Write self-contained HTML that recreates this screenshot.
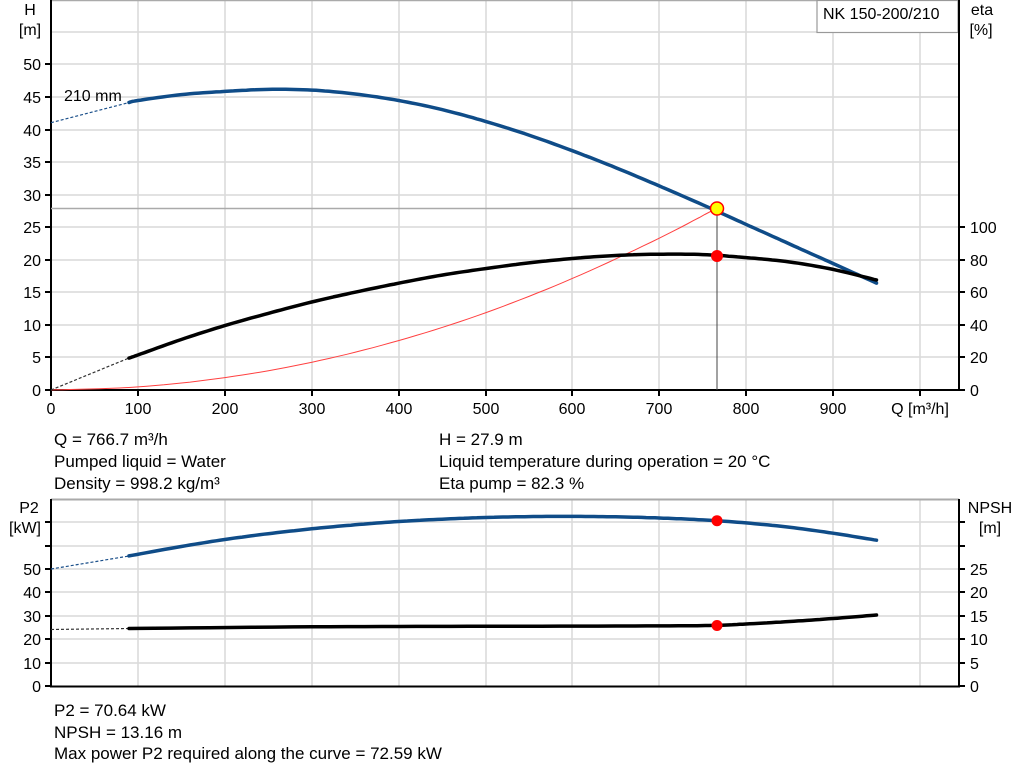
<!DOCTYPE html>
<html><head><meta charset="utf-8"><style>
html,body{margin:0;padding:0;background:#fff;}
svg{display:block;font-family:"Liberation Sans",Arial,sans-serif;}
text{fill:#000;font-size:16px;}
text.i{font-size:17px;}
.g{stroke:#d9d9d9;stroke-width:1.5;fill:none}
.ax{stroke:#000;stroke-width:2;fill:none}
</style></head><body>
<svg width="1024" height="781" viewBox="0 0 1024 781" xmlns="http://www.w3.org/2000/svg">
<g class="g">
<line x1="138" y1="0" x2="138" y2="390"/><line x1="225" y1="0" x2="225" y2="390"/><line x1="312" y1="0" x2="312" y2="390"/><line x1="399" y1="0" x2="399" y2="390"/><line x1="486" y1="0" x2="486" y2="390"/><line x1="572" y1="0" x2="572" y2="390"/><line x1="659" y1="0" x2="659" y2="390"/><line x1="746" y1="0" x2="746" y2="390"/><line x1="833" y1="0" x2="833" y2="390"/><line x1="920" y1="0" x2="920" y2="390"/>
<line x1="51" y1="32" x2="959" y2="32"/><line x1="51" y1="64" x2="959" y2="64"/><line x1="51" y1="97" x2="959" y2="97"/><line x1="51" y1="130" x2="959" y2="130"/><line x1="51" y1="162" x2="959" y2="162"/><line x1="51" y1="195" x2="959" y2="195"/><line x1="51" y1="227" x2="959" y2="227"/><line x1="51" y1="260" x2="959" y2="260"/><line x1="51" y1="292" x2="959" y2="292"/><line x1="51" y1="325" x2="959" y2="325"/><line x1="51" y1="357" x2="959" y2="357"/>
</g>
<line x1="51" y1="0.5" x2="959" y2="0.5" stroke="#aaa" stroke-width="1.5"/>
<rect x="817" y="0.5" width="141" height="32" fill="#fff" stroke="#999" stroke-width="1.2"/>
<text x="823" y="19">NK 150-200/210</text>
<path class="ax" d="M51 0 V390 H959 V0"/>
<g stroke="#000" stroke-width="2">
<line x1="45" y1="390" x2="51" y2="390"/><line x1="45" y1="357" x2="51" y2="357"/><line x1="45" y1="325" x2="51" y2="325"/><line x1="45" y1="292" x2="51" y2="292"/><line x1="45" y1="260" x2="51" y2="260"/><line x1="45" y1="227" x2="51" y2="227"/><line x1="45" y1="195" x2="51" y2="195"/><line x1="45" y1="162" x2="51" y2="162"/><line x1="45" y1="130" x2="51" y2="130"/><line x1="45" y1="97" x2="51" y2="97"/><line x1="45" y1="64" x2="51" y2="64"/>
<line x1="51" y1="390" x2="51" y2="396"/><line x1="138" y1="390" x2="138" y2="396"/><line x1="225" y1="390" x2="225" y2="396"/><line x1="312" y1="390" x2="312" y2="396"/><line x1="399" y1="390" x2="399" y2="396"/><line x1="486" y1="390" x2="486" y2="396"/><line x1="572" y1="390" x2="572" y2="396"/><line x1="659" y1="390" x2="659" y2="396"/><line x1="746" y1="390" x2="746" y2="396"/><line x1="833" y1="390" x2="833" y2="396"/><line x1="920" y1="390" x2="920" y2="396"/>
<line x1="959" y1="390" x2="965" y2="390"/><line x1="959" y1="357" x2="965" y2="357"/><line x1="959" y1="325" x2="965" y2="325"/><line x1="959" y1="292" x2="965" y2="292"/><line x1="959" y1="260" x2="965" y2="260"/><line x1="959" y1="227" x2="965" y2="227"/>
</g>
<g text-anchor="end">
<text x="41" y="396">0</text><text x="41" y="363">5</text><text x="41" y="331">10</text><text x="41" y="298">15</text><text x="41" y="266">20</text><text x="41" y="233">25</text><text x="41" y="201">30</text><text x="41" y="168">35</text><text x="41" y="136">40</text><text x="41" y="103">45</text><text x="41" y="70">50</text>
</g>
<text x="30" y="15" text-anchor="middle">H</text><text x="30" y="35" text-anchor="middle">[m]</text>
<text x="982" y="15" text-anchor="middle">eta</text><text x="981" y="35" text-anchor="middle">[%]</text>
<g>
<text x="970" y="396">0</text><text x="970" y="363">20</text><text x="970" y="331">40</text><text x="970" y="298">60</text><text x="970" y="266">80</text><text x="970" y="233">100</text>
</g>
<g text-anchor="middle">
<text x="51" y="414">0</text><text x="138" y="414">100</text><text x="225" y="414">200</text><text x="312" y="414">300</text><text x="399" y="414">400</text><text x="486" y="414">500</text><text x="572" y="414">600</text><text x="659" y="414">700</text><text x="746" y="414">800</text><text x="833" y="414">900</text><text x="920" y="414">Q [m³/h]</text>
</g>
<text x="64" y="101">210 mm</text>
<line x1="51" y1="208.5" x2="717" y2="208.5" stroke="#aaa" stroke-width="1.5"/>
<line x1="717" y1="208" x2="717" y2="390" stroke="#444" stroke-width="1"/>
<polyline class="s" fill="none" stroke="#ff4040" stroke-width="1" points="51,390 138,386.9 225,377.6 312,362.2 399,340.5 486,312.6 572,278.6 659,238.3 717,208"/>
<polyline fill="none" stroke="#1a4f8a" stroke-width="1.2" stroke-dasharray="3,2" points="51,122.7 129,102.5"/>
<polyline class="s" fill="none" stroke="#0f4c88" stroke-width="3.5" stroke-linejoin="round" stroke-linecap="round" points="129,102.5 137.9,100.5 181.3,94.6 224.8,91.4 268.2,89.4 311.7,90.1 355.1,94 398.6,100.5 442,109.6 485.5,121.4 528.9,135.1 572.3,150.7 615.8,167.7 659.2,185.9 702.7,204.8 746.1,224.4 789.6,244 833,263.5 876.5,283.1"/>
<polyline fill="none" stroke="#333" stroke-width="1.2" stroke-dasharray="3,2" points="51,390 129,358"/>
<polyline class="s" fill="none" stroke="#000" stroke-width="3.5" stroke-linejoin="round" stroke-linecap="round" points="129,358.1 137.9,355 181.3,339.5 224.8,325.6 268.2,313.4 311.7,302 355.1,292.2 398.6,283.2 442,275.1 485.5,268.6 528.9,262.9 572.3,258.5 615.8,255.5 659.2,254.2 702.7,254.6 746.1,257.6 789.6,262 833,269.4 876.5,280"/>
<circle cx="717" cy="208.5" r="6.5" fill="#ffff00" stroke="#ff0000" stroke-width="1.5"/>
<circle cx="717" cy="256" r="6" fill="#ff0000"/>
<text class="i" x="54" y="445">Q = 766.7 m³/h</text>
<text class="i" x="54" y="467">Pumped liquid = Water</text>
<text class="i" x="54" y="489">Density = 998.2 kg/m³</text>
<text class="i" x="439" y="445">H = 27.9 m</text>
<text class="i" x="439" y="467">Liquid temperature during operation = 20 °C</text>
<text class="i" x="439" y="489">Eta pump = 82.3 %</text>
<g class="g">
<line x1="138" y1="499" x2="138" y2="686"/><line x1="225" y1="499" x2="225" y2="686"/><line x1="312" y1="499" x2="312" y2="686"/><line x1="399" y1="499" x2="399" y2="686"/><line x1="486" y1="499" x2="486" y2="686"/><line x1="572" y1="499" x2="572" y2="686"/><line x1="659" y1="499" x2="659" y2="686"/><line x1="746" y1="499" x2="746" y2="686"/><line x1="833" y1="499" x2="833" y2="686"/><line x1="920" y1="499" x2="920" y2="686"/>
<line x1="51" y1="522" x2="959" y2="522"/><line x1="51" y1="546" x2="959" y2="546"/><line x1="51" y1="569" x2="959" y2="569"/><line x1="51" y1="592" x2="959" y2="592"/><line x1="51" y1="616" x2="959" y2="616"/><line x1="51" y1="639" x2="959" y2="639"/><line x1="51" y1="663" x2="959" y2="663"/>
</g>
<line x1="51" y1="499.5" x2="959" y2="499.5" stroke="#aaa" stroke-width="2"/>
<path class="ax" d="M51 499 V686.5 H959 V499"/>
<g stroke="#000" stroke-width="2">
<line x1="45" y1="686" x2="51" y2="686"/><line x1="45" y1="663" x2="51" y2="663"/><line x1="45" y1="639" x2="51" y2="639"/><line x1="45" y1="616" x2="51" y2="616"/><line x1="45" y1="592" x2="51" y2="592"/><line x1="45" y1="569" x2="51" y2="569"/><line x1="45" y1="546" x2="51" y2="546"/><line x1="45" y1="522" x2="51" y2="522"/>
<line x1="959" y1="686" x2="965" y2="686"/><line x1="959" y1="663" x2="965" y2="663"/><line x1="959" y1="639" x2="965" y2="639"/><line x1="959" y1="616" x2="965" y2="616"/><line x1="959" y1="592" x2="965" y2="592"/><line x1="959" y1="569" x2="965" y2="569"/><line x1="959" y1="546" x2="965" y2="546"/><line x1="959" y1="522" x2="965" y2="522"/>
</g>
<g text-anchor="end">
<text x="41" y="692">0</text><text x="41" y="669">10</text><text x="41" y="645">20</text><text x="41" y="622">30</text><text x="41" y="598">40</text><text x="41" y="575">50</text>
</g>
<text x="29" y="513" text-anchor="middle">P2</text><text x="25" y="533" text-anchor="middle">[kW]</text>
<text x="990" y="513" text-anchor="middle">NPSH</text><text x="990" y="533" text-anchor="middle">[m]</text>
<g>
<text x="970" y="692">0</text><text x="970" y="669">5</text><text x="970" y="645">10</text><text x="970" y="622">15</text><text x="970" y="598">20</text><text x="970" y="575">25</text>
</g>
<polyline fill="none" stroke="#1a4f8a" stroke-width="1.2" stroke-dasharray="3,2" points="51,569 129,556"/>
<polyline class="s" fill="none" stroke="#0f4c88" stroke-width="3.5" stroke-linejoin="round" stroke-linecap="round" points="129,555.9 181.3,546.5 224.8,539.5 268.2,533.7 311.7,528.8 355.1,524.8 398.6,521.5 442,519.2 485.5,517.5 528.9,516.6 572.3,516.4 615.8,516.8 659.2,518 702.7,519.9 746.1,522.9 789.6,527.3 833,533.2 876.5,540.2"/>
<polyline fill="none" stroke="#333" stroke-width="1.2" stroke-dasharray="3,2" points="51,629.5 129,628.5"/>
<polyline class="s" fill="none" stroke="#000" stroke-width="3.5" stroke-linejoin="round" stroke-linecap="round" points="129,628.5 311.7,626.8 485.5,626.3 659.2,625.9 717,625.3 746.1,624 789.6,621.5 833,618.5 876.5,615"/>
<circle cx="717" cy="520.7" r="5.5" fill="#ff0000"/>
<circle cx="717" cy="625.5" r="5.5" fill="#ff0000"/>
<text class="i" x="54" y="716">P2 = 70.64 kW</text>
<text class="i" x="54" y="738">NPSH = 13.16 m</text>
<text class="i" x="54" y="759">Max power P2 required along the curve = 72.59 kW</text>
</svg>
<script>
document.querySelectorAll('polyline.s').forEach(function(pl){
  var p=pl.getAttribute('points').trim().split(/\s+/).map(function(s){return s.split(',').map(Number);});
  var out=[];
  for(var i=0;i<p.length-1;i++){
    var p0=p[Math.max(i-1,0)],p1=p[i],p2=p[i+1],p3=p[Math.min(i+2,p.length-1)];
    for(var k=0;k<10;k++){
      var t=k/10,t2=t*t,t3=t2*t;
      var f=function(a,b,c,d){return 0.5*((2*b)+(-a+c)*t+(2*a-5*b+4*c-d)*t2+(-a+3*b-3*c+d)*t3);};
      out.push(f(p0[0],p1[0],p2[0],p3[0]).toFixed(1)+','+f(p0[1],p1[1],p2[1],p3[1]).toFixed(1));
    }
  }
  out.push(p[p.length-1].join(','));
  pl.setAttribute('points',out.join(' '));
});
</script>
</body></html>
